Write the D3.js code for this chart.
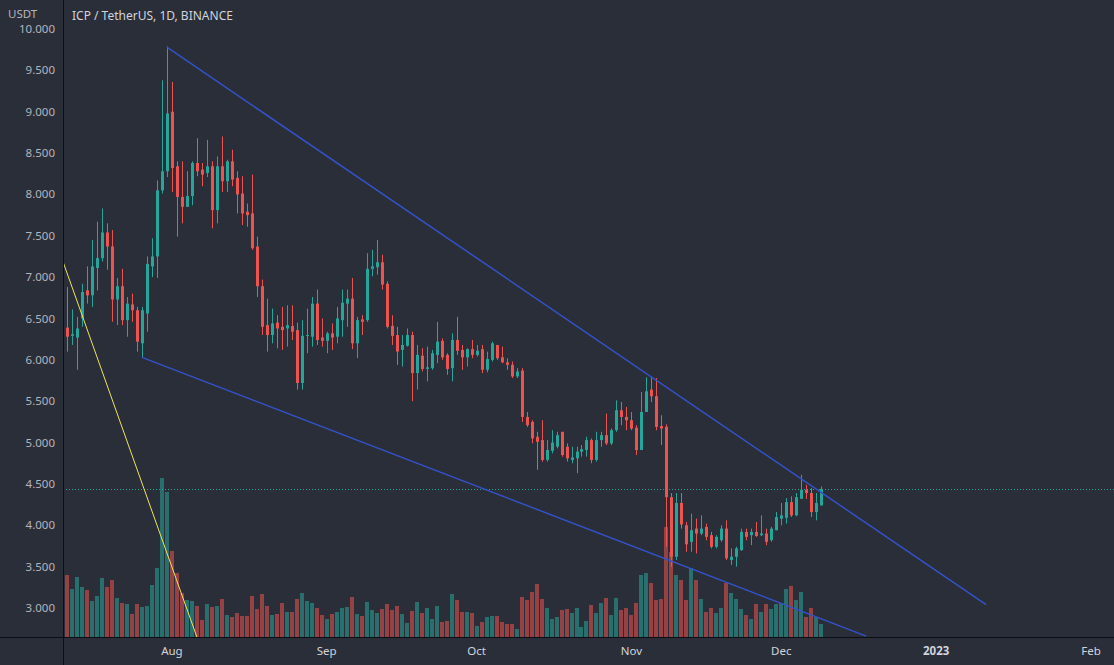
<!DOCTYPE html>
<html>
<head>
<meta charset="utf-8">
<script src="https://cdn.jsdelivr.net/npm/d3@7"></script>
<style>
    body { margin: 0; background: #2a2e39; overflow: hidden; }
    #chart-area { width: 1114px; height: 665px; }
    text { font-family: "Noto Sans", sans-serif; }
</style>
</head>
<body>
<div id="chart-area"></div>
<script>
// ICP / USDT daily candles, first candle on this date
var startDate = "2022-07-11";

var openPrices = [
    6.39, 6.29, 6.27, 6.50, 6.84, 6.78, 7.11, 7.23, 7.54, 7.37,
    6.73, 6.89, 6.48, 6.67, 6.60, 6.20, 6.56, 7.13, 7.25, 8.05,
    8.28, 9.00, 8.34, 7.97, 7.85, 7.98, 8.38, 8.30, 8.26, 8.34,
    7.81, 8.34, 8.16, 8.40, 8.20, 8.01, 7.79, 7.77, 7.37, 6.89,
    6.42, 6.30, 6.45, 6.40, 6.38, 6.41, 6.36, 5.72, 6.29, 6.28,
    6.68, 6.27, 6.23, 6.32, 6.28, 6.48, 6.68, 6.74, 6.20, 6.49,
    6.48, 7.10, 7.12, 7.18, 6.92, 6.41, 6.30, 6.12, 6.17, 6.30,
    5.84, 6.05, 5.89, 5.90, 6.06, 6.23, 6.06, 5.90, 6.24, 6.12,
    6.03, 6.13, 6.06, 6.13, 5.88, 6.00, 6.18, 6.03, 5.97, 5.94,
    5.80, 5.87, 5.31, 5.25, 5.07, 5.03, 4.79, 4.90, 4.95, 5.13,
    4.95, 4.79, 4.81, 4.89, 4.91, 5.03, 4.79, 5.03, 5.09, 4.99,
    5.15, 5.39, 5.31, 5.27, 5.18, 4.91, 5.37, 5.64, 5.56, 5.20,
    5.19, 4.34, 3.62, 4.27, 4.00, 3.80, 3.96, 3.90, 3.98, 3.88,
    3.74, 3.82, 3.96, 3.58, 3.62, 3.70, 3.92, 3.88, 3.92, 3.88,
    3.90, 3.82, 3.94, 4.08, 4.09, 4.28, 4.12, 4.32, 4.43, 4.39,
    4.16, 4.24
];
var highPrices = [
    6.88, 6.61, 6.52, 6.92, 7.13, 7.45, 7.67, 7.83, 7.65, 7.57,
    6.99, 7.10, 6.76, 6.80, 6.64, 6.64, 7.25, 7.47, 8.17, 9.38,
    9.79, 9.36, 8.40, 8.40, 8.28, 8.40, 8.68, 8.38, 8.66, 8.40,
    8.46, 8.70, 8.42, 8.54, 8.28, 8.22, 7.89, 8.24, 7.49, 6.97,
    6.74, 6.62, 6.54, 6.64, 6.66, 6.66, 6.45, 6.48, 6.62, 6.76,
    6.85, 6.50, 6.34, 6.44, 6.64, 6.85, 6.85, 6.99, 6.52, 6.54,
    7.29, 7.33, 7.45, 7.27, 6.95, 6.54, 6.40, 6.30, 6.38, 6.34,
    6.18, 6.14, 6.16, 6.12, 6.46, 6.26, 6.08, 6.32, 6.52, 6.18,
    6.14, 6.24, 6.18, 6.18, 6.10, 6.22, 6.18, 6.16, 6.02, 5.98,
    5.90, 5.90, 5.37, 5.27, 5.13, 5.27, 5.03, 5.15, 5.13, 5.13,
    4.99, 4.95, 4.95, 4.97, 5.07, 5.05, 5.13, 5.13, 5.35, 5.17,
    5.51, 5.49, 5.43, 5.37, 5.21, 5.61, 5.79, 5.79, 5.78, 5.33,
    5.22, 4.39, 4.39, 4.39, 4.04, 4.14, 4.08, 4.12, 4.02, 3.92,
    3.88, 4.00, 4.06, 3.72, 3.74, 3.96, 3.96, 3.96, 4.04, 4.12,
    3.96, 3.98, 4.16, 4.27, 4.33, 4.35, 4.39, 4.61, 4.49, 4.45,
    4.39, 4.47
];
var lowPrices = [
    6.10, 6.18, 5.88, 6.40, 6.68, 6.64, 6.84, 7.19, 7.09, 6.46,
    6.42, 6.42, 6.28, 6.46, 6.10, 6.03, 6.34, 7.00, 6.99, 8.01,
    8.21, 8.03, 7.49, 7.65, 7.85, 7.87, 8.22, 8.10, 8.21, 7.59,
    7.65, 8.03, 8.03, 8.10, 7.77, 7.63, 7.61, 7.33, 6.76, 6.30,
    6.10, 6.20, 6.14, 6.12, 6.16, 6.24, 5.64, 5.64, 6.08, 6.16,
    6.18, 6.16, 6.08, 6.12, 6.20, 6.28, 6.40, 6.13, 6.02, 6.30,
    6.46, 7.01, 7.03, 6.85, 6.38, 6.18, 5.94, 5.92, 6.16, 5.50,
    5.64, 5.86, 5.74, 5.88, 5.96, 6.00, 5.82, 5.74, 6.06, 5.88,
    5.92, 6.02, 6.04, 5.84, 5.85, 5.98, 6.00, 5.96, 5.88, 5.78,
    5.78, 5.25, 5.19, 4.99, 4.67, 4.77, 4.77, 4.87, 4.93, 4.83,
    4.77, 4.75, 4.63, 4.83, 4.83, 4.75, 4.77, 4.95, 4.97, 4.97,
    5.13, 5.21, 5.15, 5.15, 4.85, 4.91, 5.37, 5.49, 5.15, 4.97,
    3.74, 3.50, 3.58, 3.96, 3.68, 3.68, 3.66, 3.88, 3.82, 3.72,
    3.72, 3.80, 3.58, 3.52, 3.50, 3.69, 3.82, 3.76, 3.86, 3.87,
    3.76, 3.80, 3.94, 4.00, 4.02, 4.10, 4.11, 4.32, 4.32, 4.10,
    4.06, 4.24
];
var closePrices = [
    6.28, 6.31, 6.38, 6.82, 6.78, 7.13, 7.23, 7.54, 7.37, 6.73,
    6.89, 6.48, 6.68, 6.60, 6.22, 6.60, 7.16, 7.25, 8.05, 8.28,
    8.98, 8.32, 7.97, 7.85, 7.98, 8.38, 8.28, 8.24, 8.34, 7.81,
    8.34, 8.16, 8.40, 8.18, 8.00, 7.77, 7.75, 7.35, 6.89, 6.40,
    6.30, 6.44, 6.38, 6.36, 6.42, 6.34, 5.72, 6.29, 6.30, 6.68,
    6.24, 6.23, 6.32, 6.27, 6.50, 6.69, 6.74, 6.20, 6.48, 6.46,
    7.10, 7.13, 7.18, 6.91, 6.40, 6.29, 6.10, 6.18, 6.30, 5.84,
    6.06, 5.89, 5.91, 6.08, 6.22, 6.03, 5.89, 6.24, 6.11, 6.03,
    6.13, 6.06, 6.11, 5.88, 6.01, 6.20, 6.02, 5.97, 5.94, 5.80,
    5.86, 5.31, 5.21, 5.05, 5.01, 4.79, 4.91, 5.00, 5.09, 4.85,
    4.81, 4.82, 4.89, 4.92, 5.03, 4.79, 5.03, 5.09, 4.99, 5.15,
    5.39, 5.31, 5.27, 5.17, 4.91, 5.37, 5.62, 5.56, 5.19, 5.17,
    4.34, 3.62, 4.27, 4.01, 3.77, 3.94, 3.90, 3.96, 3.86, 3.74,
    3.86, 3.96, 3.60, 3.62, 3.72, 3.92, 3.86, 3.92, 3.87, 3.90,
    3.80, 3.96, 4.10, 4.12, 4.28, 4.12, 4.34, 4.43, 4.39, 4.16,
    4.27, 4.44
];
// volume, millions
var volumes = [
    6.2, 4.8, 6.0, 5.0, 4.7, 3.6, 4.1, 5.9, 5.0, 5.7,
    3.9, 3.4, 3.3, 2.3, 3.3, 3.0, 3.1, 5.2, 6.9, 15.9,
    14.5, 8.6, 6.4, 4.4, 3.7, 3.6, 3.1, 1.7, 3.3, 3.0,
    3.1, 3.8, 2.2, 2.0, 2.4, 2.1, 2.1, 4.1, 2.8, 4.3,
    3.1, 2.2, 2.3, 3.4, 2.5, 2.5, 3.8, 4.4, 3.6, 3.4,
    2.9, 2.2, 1.8, 2.3, 2.5, 2.9, 3.0, 4.0, 2.3, 2.1,
    3.5, 2.7, 2.4, 2.8, 3.3, 2.7, 3.1, 2.3, 1.4, 2.6,
    3.5, 2.4, 2.9, 1.8, 3.1, 1.5, 1.6, 4.3, 3.7, 2.5,
    2.5, 2.4, 1.1, 1.5, 2.0, 2.1, 2.1, 1.5, 1.3, 1.3,
    0.8, 4.0, 3.7, 4.5, 5.3, 3.8, 2.9, 1.8, 2.0, 2.7,
    2.8, 2.4, 2.9, 1.0, 1.6, 3.2, 2.4, 3.4, 3.9, 2.2,
    3.9, 2.7, 2.9, 2.2, 3.4, 6.2, 6.4, 5.4, 3.7, 3.8,
    11.0, 8.5, 6.2, 5.7, 3.7, 6.9, 5.7, 3.8, 2.5, 2.9,
    2.4, 2.9, 5.4, 4.4, 3.8, 2.8, 2.2, 1.8, 3.3, 2.5,
    3.3, 2.8, 3.3, 3.4, 4.8, 5.1, 3.7, 4.5, 2.0, 2.9,
    2.0, 1.3
];

// axis ticks
var priceTicks = [3.0, 3.5, 4.0, 4.5, 5.0, 5.5, 6.0, 6.5, 7.0, 7.5, 8.0, 8.5, 9.0, 9.5, 10.0];
var monthTicks = ["2022-08-01", "2022-09-01", "2022-10-01", "2022-11-01", "2022-12-01", "2023-01-01", "2023-02-01"];
var monthLabels = ["Aug", "Sep", "Oct", "Nov", "Dec", "2023", "Feb"];

// drawn trend lines [date, price]
var upperLine = [["2022-07-31", 9.78], ["2023-01-11", 3.04]];
var lowerLine = [["2022-07-26", 6.03], ["2022-12-18", 2.66]];
var yellowLine = [["2022-07-10", 7.22], ["2022-08-06", 2.65]];


CandleChart = function(_parentElement){
    this.parentElement = _parentElement;
    this.initVis();
};

CandleChart.prototype.initVis = function(){
    var vis = this;

    vis.totalWidth = 1114;
    vis.totalHeight = 665;
    vis.axisX = 63;      // price scale sits on the left
    vis.axisY = 637;     // time scale at the bottom

    vis.svg = d3.select("#" + vis.parentElement).append("svg")
        .attr("width", vis.totalWidth)
        .attr("height", vis.totalHeight);

    vis.svg.append("rect")
        .attr("width", vis.totalWidth)
        .attr("height", vis.totalHeight)
        .attr("fill", "#2a2e39");

    vis.svg.append("clipPath")
        .attr("id", "plot-clip")
        .append("rect")
        .attr("x", vis.axisX + 1)
        .attr("y", 0)
        .attr("width", vis.totalWidth - vis.axisX)
        .attr("height", vis.axisY);

    vis.parseDate = d3.timeParse("%Y-%m-%d");

    vis.x = d3.scaleTime()
        .domain([vis.parseDate("2022-07-11"), vis.parseDate("2023-02-01")])
        .range([67, 1091]);

    vis.y = d3.scaleLinear()
        .domain([3, 10])
        .range([608, 29]);

    vis.wrangleData();
};

CandleChart.prototype.wrangleData = function(){
    var vis = this;

    var first = vis.parseDate(startDate);
    vis.candles = openPrices.map(function(o, i){
        return {
            date: d3.timeDay.offset(first, i),
            open: o,
            high: highPrices[i],
            low: lowPrices[i],
            close: closePrices[i],
            volume: volumes[i]
        };
    });

    vis.vol = d3.scaleLinear()
        .domain([0, d3.max(vis.candles, function(d){ return d.volume; })])
        .range([vis.axisY, vis.axisY - 159]);

    vis.updateVis();
};

CandleChart.prototype.updateVis = function(){
    var vis = this;
    var up = "#26a69a", down = "#ef5350";

    var plot = vis.svg.append("g").attr("clip-path", "url(#plot-clip)");

    // volume bars
    plot.selectAll(".vol").data(vis.candles).enter().append("rect")
        .attr("class", "vol")
        .attr("x", function(d){ return Math.round(vis.x(d.date)) - 2; })
        .attr("y", function(d){ return vis.vol(d.volume); })
        .attr("width", 4)
        .attr("height", function(d){ return vis.axisY - vis.vol(d.volume); })
        .attr("fill", function(d){ return d.close >= d.open ? up : down; })
        .attr("fill-opacity", 0.55);

    // last price line
    var last = vis.candles[vis.candles.length - 1];
    plot.append("line")
        .attr("x1", vis.axisX).attr("x2", vis.totalWidth)
        .attr("y1", Math.round(vis.y(last.close)) + 0.5)
        .attr("y2", Math.round(vis.y(last.close)) + 0.5)
        .attr("stroke", up)
        .attr("stroke-width", 1)
        .attr("stroke-dasharray", "1,2");

    // wicks
    plot.selectAll(".wick").data(vis.candles).enter().append("line")
        .attr("class", "wick")
        .attr("x1", function(d){ return Math.round(vis.x(d.date)) + 0.5; })
        .attr("x2", function(d){ return Math.round(vis.x(d.date)) + 0.5; })
        .attr("y1", function(d){ return vis.y(d.high); })
        .attr("y2", function(d){ return vis.y(d.low); })
        .attr("stroke", function(d){ return d.close >= d.open ? up : down; })
        .attr("stroke-width", 1);

    // bodies
    plot.selectAll(".body").data(vis.candles).enter().append("rect")
        .attr("class", "body")
        .attr("x", function(d){ return Math.round(vis.x(d.date)) - 1; })
        .attr("y", function(d){ return vis.y(Math.max(d.open, d.close)); })
        .attr("width", 3)
        .attr("height", function(d){
            return Math.max(1, Math.abs(vis.y(d.open) - vis.y(d.close)));
        })
        .attr("fill", function(d){ return d.close >= d.open ? up : down; });

    // trend lines
    var lineGen = d3.line()
        .x(function(p){ return vis.x(vis.parseDate(p[0])); })
        .y(function(p){ return vis.y(p[1]); });

    [[upperLine, "#3452c7"], [lowerLine, "#3452c7"], [yellowLine, "#f0e35a"]].forEach(function(l){
        plot.append("path")
            .attr("d", lineGen(l[0]))
            .attr("fill", "none")
            .attr("stroke", l[1])
            .attr("stroke-width", l[1] == "#f0e35a" ? 1 : 1.5);
    });

    // axis lines
    vis.svg.append("line")
        .attr("x1", vis.axisX + 0.5).attr("x2", vis.axisX + 0.5)
        .attr("y1", 0).attr("y2", vis.totalHeight)
        .attr("stroke", "#0c0e13");
    vis.svg.append("line")
        .attr("x1", 0).attr("x2", vis.totalWidth)
        .attr("y1", vis.axisY + 0.5).attr("y2", vis.axisY + 0.5)
        .attr("stroke", "#0c0e13");

    // price scale labels
    var fmt = d3.format(".3f");
    vis.svg.selectAll(".ytick").data(priceTicks).enter().append("text")
        .attr("class", "ytick")
        .attr("x", 55)
        .attr("y", function(d){ return vis.y(d); })
        .attr("dy", "0.35em")
        .attr("text-anchor", "end")
        .attr("fill", "#b2b5be")
        .style("font-size", "11.5px")
        .text(function(d){ return fmt(d); });

    // time scale labels
    vis.svg.selectAll(".xtick").data(monthTicks).enter().append("text")
        .attr("class", "xtick")
        .attr("x", function(d){ return vis.x(vis.parseDate(d)); })
        .attr("y", 651)
        .attr("dy", "0.35em")
        .attr("text-anchor", "middle")
        .attr("fill", "#d1d4dc")
        .style("font-size", "11.5px")
        .style("font-weight", function(d, i){ return monthLabels[i] == "2023" ? "bold" : "normal"; })
        .text(function(d, i){ return monthLabels[i]; });

    vis.svg.append("text")
        .attr("x", 8).attr("y", 14)
        .attr("dy", "0.35em")
        .attr("fill", "#b2b5be")
        .style("font-size", "11.5px")
        .text("USDT");

    vis.svg.append("text")
        .attr("x", 72).attr("y", 16)
        .attr("dy", "0.35em")
        .attr("fill", "#d1d4dc")
        .style("font-size", "12px")
        .text("ICP / TetherUS, 1D, BINANCE");
};

var chart = new CandleChart("chart-area");
</script>
</body>
</html>
